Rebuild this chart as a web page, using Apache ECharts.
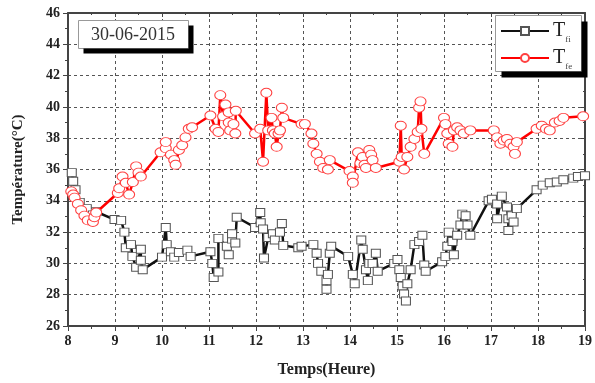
<!DOCTYPE html>
<html>
<head>
<meta charset="utf-8">
<script src="https://cdn.jsdelivr.net/npm/echarts@6/dist/echarts.min.js"></script>
<style>html,body{margin:0;padding:0;background:#fff;}#c{width:595px;height:383px;}</style>
</head>
<body>
<div id="c"></div>
<script>
const xTicks = [8, 9, 10, 11, 12, 13, 14, 15, 16, 17, 18, 19];
const yTicks = [26, 28, 30, 32, 34, 36, 38, 40, 42, 44, 46];
const dateLabel = '30-06-2015';
const seriesNames = ['Tfi', 'Tfe'];

const tfiHours = [8.08,8.11,8.16,8.25,8.4,8.53,8.6,8.99,9.13,9.2,9.23,9.34,9.37,9.45,9.55,9.55,9.59,10.0,10.08,10.1,10.19,10.26,10.36,10.54,10.61,11.03,11.07,11.1,11.2,11.2,11.38,11.42,11.49,11.49,11.56,11.59,11.98,12.09,12.1,12.15,12.17,12.26,12.36,12.4,12.51,12.55,12.58,12.9,12.97,13.22,13.29,13.32,13.39,13.5,13.5,13.53,13.57,13.6,13.96,14.06,14.1,14.24,14.27,14.34,14.38,14.41,14.48,14.55,14.59,14.94,15.01,15.05,15.08,15.12,15.15,15.19,15.22,15.29,15.37,15.47,15.54,15.58,15.61,15.96,16.03,16.07,16.1,16.18,16.21,16.28,16.35,16.39,16.46,16.5,16.56,16.95,17.02,17.13,17.13,17.23,17.34,17.37,17.37,17.44,17.48,17.55,17.97,18.1,18.25,18.4,18.54,18.75,18.85,19.0];
const tfiValues = [35.8,35.25,34.7,33.9,33.5,33.1,33.3,32.8,32.75,32.0,31.0,31.2,30.45,29.75,30.9,30.2,29.6,30.4,32.3,31.2,30.75,30.4,30.7,30.85,30.45,30.75,30.0,29.1,29.45,31.6,31.1,30.55,31.55,31.9,31.3,32.95,32.3,33.25,32.6,32.2,30.35,31.65,31.9,31.5,32.0,32.55,31.15,31.0,31.1,31.2,30.65,30.0,29.5,28.9,28.35,29.3,30.65,31.1,30.45,29.3,28.7,31.5,30.9,29.6,28.9,30.0,30.0,30.65,29.5,30.0,30.25,29.6,29.1,28.55,28.05,27.6,28.7,29.6,31.2,31.4,31.8,29.9,29.5,30.1,30.45,31.1,32.0,31.4,30.55,31.8,32.45,33.15,33.05,32.45,31.8,34.0,34.1,33.8,32.85,34.3,33.6,32.85,32.1,33.05,32.65,33.5,34.7,35.0,35.15,35.2,35.35,35.45,35.55,35.6];

const tfeHours = [8.07,8.11,8.14,8.21,8.28,8.35,8.42,8.53,8.56,8.6,9.06,9.09,9.16,9.23,9.3,9.38,9.45,9.5,9.55,9.97,10.08,10.08,10.19,10.26,10.29,10.36,10.43,10.5,10.57,10.64,11.03,11.14,11.2,11.24,11.3,11.35,11.42,11.42,11.45,11.52,11.56,11.57,11.98,12.09,12.15,12.22,12.26,12.33,12.36,12.4,12.44,12.48,12.51,12.55,12.58,12.97,13.04,13.18,13.22,13.29,13.36,13.43,13.53,13.57,13.99,14.06,14.06,14.17,14.22,14.27,14.31,14.34,14.41,14.45,14.48,14.55,15.05,15.08,15.1,15.15,15.22,15.29,15.37,15.44,15.47,15.5,15.52,15.58,16.0,16.03,16.07,16.1,16.18,16.21,16.28,16.35,16.42,16.56,17.06,17.13,17.2,17.27,17.34,17.41,17.48,17.51,17.55,17.97,18.08,18.17,18.25,18.36,18.46,18.54,18.96];
const tfeValues = [34.6,34.4,34.2,33.8,33.4,33.05,32.75,32.65,32.95,33.25,34.5,34.8,35.55,35.15,34.4,35.2,36.2,35.8,35.55,37.1,37.35,37.75,36.95,36.6,36.3,37.25,37.55,38.05,38.6,38.7,39.45,38.6,38.4,40.75,39.4,40.15,39.65,39.0,38.5,38.9,38.3,39.75,38.3,38.6,36.5,40.9,38.5,39.3,38.5,38.3,37.45,38.3,38.5,39.95,39.3,38.9,38.9,38.3,37.65,37.0,36.5,36.1,36.0,36.6,35.9,35.55,35.15,37.1,36.4,36.8,36.3,36.1,37.25,36.95,36.6,36.1,36.5,38.8,36.8,36.0,36.8,37.45,37.95,38.4,39.95,40.35,38.6,37.0,39.3,38.9,38.3,37.65,37.45,38.5,38.7,38.5,38.3,38.5,38.5,38.05,37.65,37.85,37.95,37.65,37.45,37.0,37.75,38.6,38.8,38.6,38.5,39.0,39.1,39.3,39.4];

const pairs = (xs, ys) => xs.map((x, i) => [x, ys[i]]);
const serif = '"Liberation Serif", "DejaVu Serif", serif';

const chart = echarts.init(document.getElementById('c'), null, {renderer: 'canvas'});

const axisCommon = {
  axisLine: {show: true, onZero: false, lineStyle: {color: '#444', width: 2}},
  axisTick: {show: true, length: 5, lineStyle: {color: '#444', width: 1}},
  minorTick: {show: true, splitNumber: 2, length: 3, lineStyle: {color: '#444', width: 1}},
};

function boxWithShadow(id, x, y, w, h, off) {
  return [
    {type: 'polygon', id: id + 'S', z: 100, silent: true,
      shape: {points: [[x + w, y + off], [x + w + off, y + off], [x + w + off, y + h + off],
                       [x + off, y + h + off], [x + off, y + h], [x + w, y + h]]},
      style: {fill: '#000000', stroke: '#000000', lineWidth: 0}},
    {type: 'rect', id: id + 'B', z: 99, silent: true, shape: {x: x, y: y, width: w, height: h},
      style: {fill: '#ffffff', stroke: '#999999', lineWidth: 1}}
  ];
}

chart.setOption({
  backgroundColor: '#fff',
  animation: false,
  grid: {left: 68, right: 7, top: 13, bottom: 50, containLabel: false},
  graphic: {
    elements: [
      ...boxWithShadow('title', 78.5, 20.5, 110, 28, 5),
      {type: 'text', id: 'titleText', z: 101, silent: true, x: 133, y: 35,
        style: {text: dateLabel, fontFamily: serif, fontSize: 18, fill: '#333',
          align: 'center', verticalAlign: 'middle'}},
      ...boxWithShadow('leg', 495.5, 15.5, 86, 56, 6)
    ]
  },
  legend: {
    orient: 'vertical',
    left: 500, top: 21,
    padding: 0,
    itemWidth: 48, itemHeight: 10, itemGap: 4,
    z: 120,
    data: seriesNames,
    formatter: name => '{t|T}{s|' + name.slice(1) + '}',
    textStyle: {
      color: '#222',
      padding: [0, 0, 0, -1],
      rich: {
        t: {fontFamily: serif, fontSize: 20, color: '#222', verticalAlign: 'bottom'},
        s: {fontFamily: serif, fontSize: 9, color: '#444', verticalAlign: 'bottom', padding: [0, 0, -3, 0]}
      }
    }
  },
  xAxis: [
    Object.assign({}, axisCommon, {
      type: 'value', position: 'bottom', min: 8, max: 19, interval: 1,
      name: 'Temps(Heure)', nameLocation: 'middle', nameGap: 36,
      nameTextStyle: {fontFamily: serif, fontSize: 16, fontWeight: 'bold', color: '#222'},
      axisLabel: {fontFamily: serif, fontSize: 14, fontWeight: 'bold', color: '#222', margin: 8,
        formatter: v => xTicks.includes(v) ? String(v) : ''},
      splitLine: {show: true, lineStyle: {color: '#555', type: [3, 3], width: 1}}
    }),
    Object.assign({}, axisCommon, {
      type: 'value', position: 'top', min: 8, max: 19, interval: 1,
      axisLabel: {show: false},
      axisTick: {show: true, inside: true, length: 4, lineStyle: {color: '#444'}},
      minorTick: {show: true, splitNumber: 2, length: 2, lineStyle: {color: '#444'}},
      splitLine: {show: false}
    })
  ],
  yAxis: [
    Object.assign({}, axisCommon, {
      type: 'value', position: 'left', min: 26, max: 46, interval: 2,
      name: 'Température(°C)', nameLocation: 'middle', nameGap: 42, nameRotate: 90,
      nameTextStyle: {fontFamily: serif, fontSize: 15, fontWeight: 'bold', color: '#222'},
      axisLabel: {fontFamily: serif, fontSize: 14, fontWeight: 'bold', color: '#222', margin: 8,
        formatter: v => yTicks.includes(v) ? String(v) : ''},
      splitLine: {show: true, lineStyle: {color: '#555', type: [3, 3], width: 1}}
    }),
    Object.assign({}, axisCommon, {
      type: 'value', position: 'right', min: 26, max: 46, interval: 2,
      axisLabel: {show: false},
      axisTick: {show: true, inside: true, length: 4, lineStyle: {color: '#444'}},
      minorTick: {show: true, splitNumber: 2, length: 2, lineStyle: {color: '#444'}},
      splitLine: {show: false}
    })
  ],
  series: [
    {
      name: 'Tfi', type: 'line', xAxisIndex: 0, yAxisIndex: 0,
      data: pairs(tfiHours, tfiValues),
      symbol: 'rect', symbolSize: [9, 8], showAllSymbol: true,
      lineStyle: {color: '#111', width: 2.5},
      itemStyle: {color: '#fff', borderColor: '#555', borderWidth: 1},
      z: 3
    },
    {
      name: 'Tfe', type: 'line', xAxisIndex: 0, yAxisIndex: 0,
      data: pairs(tfeHours, tfeValues),
      symbol: 'circle', symbolSize: [11, 9], showAllSymbol: true,
      lineStyle: {color: '#ff0000', width: 2.5},
      itemStyle: {color: '#fff', borderColor: '#ff4040', borderWidth: 1},
      z: 4
    }
  ]
});
</script>
</body>
</html>
